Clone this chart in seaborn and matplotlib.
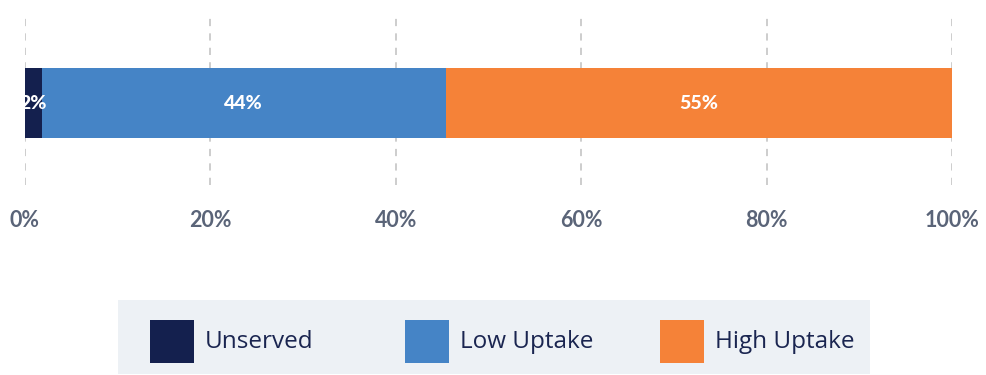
import matplotlib
matplotlib.use("Agg")
import matplotlib.pyplot as plt
from matplotlib.patches import Rectangle
import seaborn as sns
import pandas as pd
import numpy as np

# Share of locations by broadband status (percent)
segments = ["Unserved", "Low Uptake", "High Uptake"]
shares = [1.8, 43.6, 54.6]
colors = ["#14204e", "#4584c6", "#f58238"]
ticks = [0, 20, 40, 60, 80, 100]
tick_labels = ["0%", "20%", "40%", "60%", "80%", "100%"]

sns.set_theme(style="white")
plt.rcParams["font.family"] = ["Lato", "DejaVu Sans"]

W, H = 986, 375
fig = plt.figure(figsize=(W / 100, H / 100), dpi=100)
ax = fig.add_axes([25 / W, 1 - 185 / H, 927 / W, 172 / H])

cum = np.cumsum(shares)
df = pd.DataFrame({"segment": segments, "share": shares, "end": cum, "row": [""] * 3})

# Stacked bar: draw cumulative totals from the widest down so each layer shows its own segment
for i in reversed(range(len(segments))):
    sns.barplot(data=df.iloc[[i]], x="end", y="row", orient="h", color=colors[i],
                width=0.8, saturation=1, linewidth=0, edgecolor="none", ax=ax, zorder=3)

starts = cum - np.array(shares)
for s, v in zip(starts, shares):
    ax.text(s + v / 2, 0, f"{round(v):d}%", ha="center", va="center", color="white",
            fontsize=14, fontweight="black", zorder=5)

ax.set_xlim(0, 100)
ax.set_ylim(0.937, -1.029)
ax.set_xticks(ticks)
ax.set_xticklabels(tick_labels)
ax.set_xlabel("")
ax.set_ylabel("")
ax.set_yticks([])
for sp in ax.spines.values():
    sp.set_visible(False)
ax.grid(axis="x", color="#c9c9c9", linestyle=(0, (4, 4)), linewidth=1.3, zorder=0)
ax.grid(axis="y", visible=False)
ax.tick_params(axis="x", length=0, pad=18, labelsize=15.5, labelcolor="#5a6478")
for lab in ax.get_xticklabels():
    lab.set_fontweight("bold")

# Legend panel with three equal-width columns
fig.patches.append(Rectangle((118 / W, 1 - 374 / H), 752 / W, 74 / H,
                             transform=fig.transFigure, facecolor="#edf1f5",
                             edgecolor="none", zorder=0))
for i, (name, c) in enumerate(zip(segments, colors)):
    x0 = 150 + 255 * i
    fig.patches.append(Rectangle((x0 / W, 1 - 363 / H), 44 / W, 43 / H,
                                 transform=fig.transFigure, facecolor=c,
                                 edgecolor="none", zorder=1))
    fig.text((x0 + 55) / W, 1 - 342 / H, name, ha="left", va="center",
             fontsize=17.5, color="#1a2550", family=["Open Sans", "DejaVu Sans"])

fig.savefig("out.png", dpi=100, facecolor="white")
